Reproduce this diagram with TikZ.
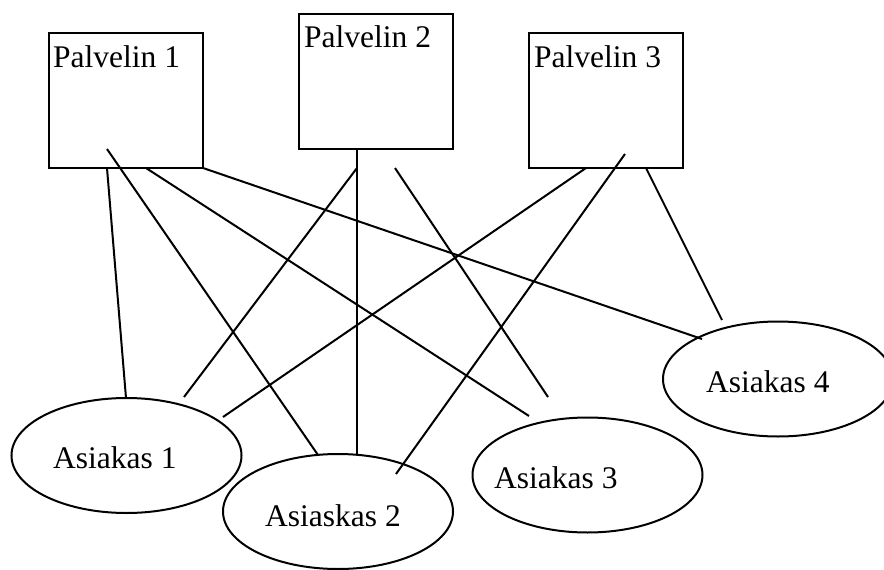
\documentclass[tikz,border=0pt]{standalone}
\usepackage{fontspec}
\setmainfont{Liberation Serif}
\usetikzlibrary{shapes.geometric}
\begin{document}
\begin{tikzpicture}[x=1pt,y=-1pt,
  server/.style={draw,line width=2pt,rectangle,inner sep=0pt,
    minimum width=154pt,minimum height=135pt},
  client/.style={draw,line width=2pt,ellipse,inner sep=0pt,
    minimum width=230pt,minimum height=115pt},
  caption/.style={anchor=base west,inner sep=0pt,
    font=\fontsize{31.5}{36}\selectfont},
  link/.style={line width=2pt}]
\useasboundingbox (0,0) rectangle (884,570);

% servers
\node[server] (p1) at (126,100.5) {};
\node[server] (p2) at (376,81.5) {};
\node[server] (p3) at (606,100.5) {};
\node[caption] (t1) at (53,67) {Palvelin 1};
\node[caption] (t2) at (304,47) {Palvelin 2};
\node[caption] (t3) at (534,67) {Palvelin 3};

% clients
\node[client] (a1) at (126.5,455.5) {};
\node[client] (a2) at (338,511.5) {};
\node[client] (a3) at (587.5,475) {};
\node[client] (a4) at (778,379) {};
\node[caption] (u1) at (53,468) {Asiakas 1};
\node[caption] (u2) at (265,526) {Asiaskas 2};
\node[caption] (u3) at (494,488) {Asiakas 3};
\node[caption] (u4) at (706,392) {Asiakas 4};

% connector end points
\coordinate (s1) at (107,168);  \coordinate (e1) at (126,398);
\coordinate (s2) at (107,149);  \coordinate (e2) at (318,455);
\coordinate (s3) at (146,168);  \coordinate (e3) at (529,416);
\coordinate (s4) at (203,168);  \coordinate (e4) at (702,339);
\coordinate (s5) at (357,168);  \coordinate (e5) at (184,397);
\coordinate (s6) at (357,149);  \coordinate (e6) at (357,455);
\coordinate (s7) at (395,168);  \coordinate (e7) at (548,397);
\coordinate (s8) at (586,168);  \coordinate (e8) at (223,417);
\coordinate (s9) at (625,154);  \coordinate (e9) at (396,474);
\coordinate (s10) at (646,168); \coordinate (e10) at (722,320);

% connections
\foreach \i in {1,...,10} \draw[link] (s\i) -- (e\i);
\end{tikzpicture}
\end{document}
